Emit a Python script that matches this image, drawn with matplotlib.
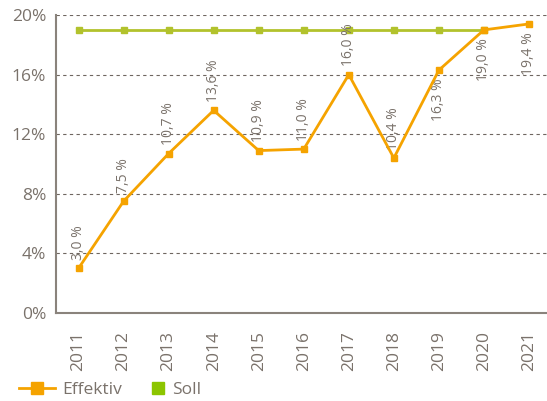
import matplotlib
matplotlib.use("Agg")
import matplotlib.pyplot as plt
from matplotlib.lines import Line2D

years = [2011, 2012, 2013, 2014, 2015, 2016, 2017, 2018, 2019, 2020, 2021]
effektiv = [3.0, 7.5, 10.7, 13.6, 10.9, 11.0, 16.0, 10.4, 16.3, 19.0, 19.4]
soll = [19, 19, 19, 19, 19, 19, 19, 19, 19, 19]
soll_years = years[:10]
label_below = [False, False, False, False, False, False, False, False, True, True, True]
yticks = [0, 4, 8, 12, 16, 20]

txt = "#7a726b"
orange = "#f5a300"
green = "#b2c22c"

plt.rcParams['font.family'] = ['Open Sans', 'DejaVu Sans']
fig = plt.figure(figsize=(5.47, 4.01), dpi=100)
ax = fig.add_axes([56/547, (401-313)/401, (547-56)/547, 298/401])

ax.plot(soll_years, soll, color=green, lw=2, marker='s', ms=5, zorder=3)
ax.plot(years, effektiv, color=orange, lw=2, marker='s', ms=5, zorder=4)

for x, v, below in zip(years, effektiv, label_below):
    s = f"{v:.1f}".replace('.', ',') + " %"
    if below:
        ax.annotate(s, (x, v), xytext=(0, -6), textcoords='offset points', rotation=90,
                    ha='center', va='top', fontsize=10, color=txt)
    else:
        ax.annotate(s, (x, v), xytext=(0, 6), textcoords='offset points', rotation=90,
                    ha='center', va='bottom', fontsize=10, color=txt)

ax.set_xlim(2010.5, 2021.4)
ax.set_ylim(0, 20)
ax.set_yticks(yticks)
ax.set_yticklabels([f"{t}%" for t in yticks], fontsize=12.5, color=txt)
ax.set_xticks(years)
ax.set_xticklabels([str(y) for y in years], rotation=90, fontsize=12.5, color=txt)
ax.tick_params(axis='y', length=0, pad=7)
ax.tick_params(axis='x', length=0, pad=13)
ax.yaxis.grid(True, linestyle=(0, (3, 3)), color='#6e6660', lw=0.8)
ax.set_axisbelow(True)
for s in ['top', 'right']:
    ax.spines[s].set_visible(False)
for s in ['left', 'bottom']:
    ax.spines[s].set_color('#8a837c')
    ax.spines[s].set_linewidth(1.5)

h1 = Line2D([], [], color=orange, lw=2, marker='s', ms=8)
h2 = Line2D([], [], color='none', marker='s', ms=8, markerfacecolor='#8cc500', markeredgecolor='#8cc500')
leg1 = fig.legend([h1], ['Effektiv'], loc='center left', bbox_to_anchor=(15.5/547, 1 - 390/401),
                  frameon=False, fontsize=12.5, labelcolor=txt, handlelength=2.1, handletextpad=0.4,
                  borderaxespad=0, borderpad=0.2)
leg2 = fig.legend([h2], ['Soll'], loc='center left', bbox_to_anchor=(146/547, 1 - 390/401),
                  frameon=False, fontsize=12.5, labelcolor=txt, handlelength=1.0, handletextpad=0.3,
                  borderaxespad=0, borderpad=0.2)

fig.savefig("out.png", dpi=100)
